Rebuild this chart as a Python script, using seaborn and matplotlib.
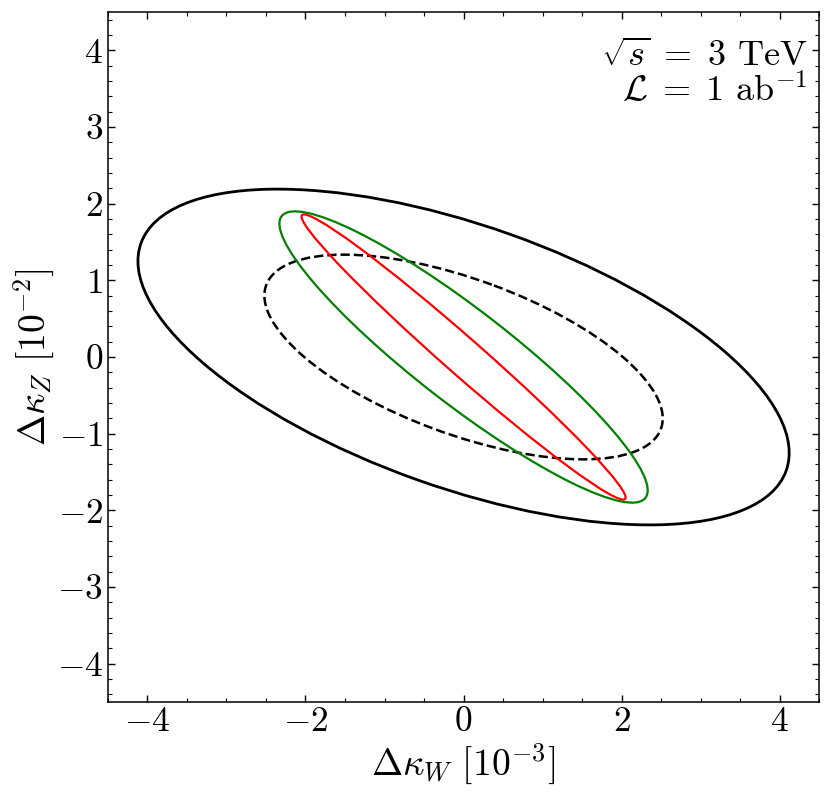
import numpy as np
import seaborn as sns
import matplotlib
matplotlib.use('Agg')
import matplotlib.pyplot as plt
from matplotlib.patches import Ellipse
from matplotlib.ticker import MultipleLocator

# contour outlines: widths along x / y (half extents) and correlation
labels = ['outer', 'inner dashed', 'green', 'red']
sigma_x = [4.12, 2.52, 2.33, 2.05]   # Delta kappa_W [1e-3]
sigma_y = [2.19, 1.335, 1.90, 1.86]  # Delta kappa_Z [1e-2]
rho = [-0.571, -0.600, -0.915, -0.985]
centre_x = [0.0, 0.0, 0.0, 0.0]
centre_y = [0.0, 0.0, 0.0, 0.0]

colors = ['black', 'black', 'green', 'red']
styles = ['-', '--', '-', '-']
widths = [2.0, 1.8, 1.6, 1.6]

sns.set_style('ticks')
plt.rcParams['font.family'] = 'serif'
plt.rcParams['font.serif'] = ['cmr10', 'DejaVu Serif']
plt.rcParams['mathtext.fontset'] = 'cm'
plt.rcParams['axes.formatter.use_mathtext'] = True
plt.rcParams['axes.unicode_minus'] = True
for key in ['text.color', 'axes.labelcolor', 'xtick.color', 'ytick.color', 'axes.edgecolor']:
    plt.rcParams[key] = 'black'


def outline(sx, sy, r):
    # ellipse width/height/angle from the 2x2 covariance
    cov = np.array([[sx * sx, r * sx * sy], [r * sx * sy, sy * sy]])
    vals, vecs = np.linalg.eigh(cov)
    big = vecs[:, 1]
    angle = np.degrees(np.arctan2(big[1], big[0]))
    return 2 * np.sqrt(vals[1]), 2 * np.sqrt(vals[0]), angle


fig = plt.figure(figsize=(8.3, 8.01), dpi=100)
ax = fig.add_axes([0.130, 0.1236, 0.857, 0.8614])

for i in range(len(labels)):
    w, h, a = outline(sigma_x[i], sigma_y[i], rho[i])
    ax.add_patch(Ellipse((centre_x[i], centre_y[i]), w, h, angle=a, fill=False,
                         edgecolor=colors[i], linestyle=styles[i], linewidth=widths[i]))

ax.set_xlim(-4.5, 4.5)
ax.set_ylim(-4.5, 4.5)
ax.xaxis.set_major_locator(MultipleLocator(2))
ax.xaxis.set_minor_locator(MultipleLocator(0.5))
ax.yaxis.set_major_locator(MultipleLocator(1))
ax.yaxis.set_minor_locator(MultipleLocator(0.2))
ax.tick_params(which='both', direction='in', top=True, right=True, labelsize=25.5)
ax.tick_params(which='major', length=5, width=1.0)
ax.tick_params(which='minor', length=2.8, width=0.8)
for sp in ax.spines.values():
    sp.set_linewidth(1.1)

ax.set_xlabel(r'$\Delta\kappa_W\ [10^{-3}]$', fontsize=27, labelpad=2)
ax.set_ylabel(r'$\Delta\kappa_Z\ [10^{-2}]$', fontsize=27, labelpad=0)

ax.text(0.983, 0.96, r'$\sqrt{s}\;=\;3$ TeV' + '\n' + r'$\mathcal{L}\;=\;1$ ab$^{-1}$',
        transform=ax.transAxes, ha='right', va='top', fontsize=26, linespacing=1.0,
        multialignment='right')

fig.savefig('out.png', dpi=100)
